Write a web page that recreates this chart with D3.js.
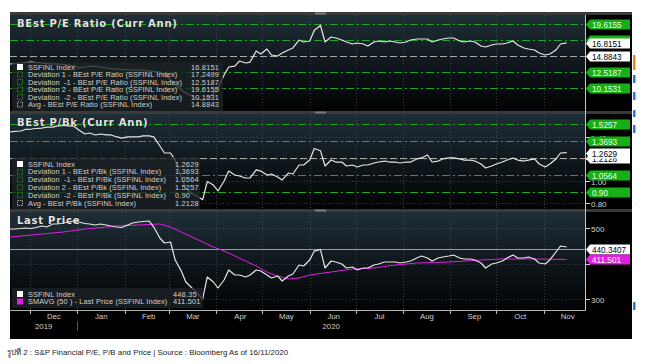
<!DOCTYPE html>
<html><head><meta charset="utf-8">
<script src="https://cdn.jsdelivr.net/npm/d3@7"></script>
<style>
html,body{margin:0;padding:0;background:#fff;}
svg{display:block;}
text{white-space:pre;}
</style></head><body>
<svg id="c" width="649" height="364"></svg>
<script>
// ---------- DATA ----------
const dates = [
"2019-11-18","2019-11-21","2019-11-25","2019-11-28","2019-12-02","2019-12-05","2019-12-09","2019-12-12","2019-12-16","2019-12-19",
"2019-12-23","2019-12-26","2019-12-30","2020-01-02","2020-01-06","2020-01-09","2020-01-13","2020-01-16","2020-01-20","2020-01-23",
"2020-01-27","2020-01-30","2020-02-03","2020-02-06","2020-02-10","2020-02-13","2020-02-17","2020-02-20","2020-02-24","2020-02-27",
"2020-03-02","2020-03-05","2020-03-09","2020-03-12","2020-03-16","2020-03-19","2020-03-23","2020-03-26","2020-03-30","2020-04-02",
"2020-04-06","2020-04-09","2020-04-13","2020-04-16","2020-04-20","2020-04-23","2020-04-27","2020-04-30","2020-05-04","2020-05-07",
"2020-05-11","2020-05-14","2020-05-18","2020-05-21","2020-05-25","2020-05-28","2020-06-01","2020-06-04","2020-06-08","2020-06-11",
"2020-06-15","2020-06-18","2020-06-22","2020-06-25","2020-06-29","2020-07-02","2020-07-06","2020-07-09","2020-07-13","2020-07-16",
"2020-07-20","2020-07-23","2020-07-27","2020-07-30","2020-08-03","2020-08-06","2020-08-10","2020-08-13","2020-08-17","2020-08-20",
"2020-08-24","2020-08-27","2020-08-31","2020-09-03","2020-09-07","2020-09-10","2020-09-14","2020-09-17","2020-09-21","2020-09-24",
"2020-09-28","2020-10-01","2020-10-05","2020-10-08","2020-10-12","2020-10-15","2020-10-19","2020-10-22","2020-10-26","2020-10-29",
"2020-11-02","2020-11-05","2020-11-09","2020-11-12","2020-11-16"];

const peValues = [
13.70,13.77,13.85,13.92,13.99,13.92,13.85,13.77,13.70,13.70,
13.63,13.55,13.40,13.11,13.26,13.33,13.40,13.26,13.11,13.03,
12.96,12.89,12.81,12.81,12.81,12.74,12.67,12.59,12.52,12.22,
11.33,10.74,9.85,9.41,8.97,8.60,8.30,8.60,9.30,10.15,
12.07,13.26,13.40,14.14,13.85,13.99,15.62,15.18,15.92,15.03,
14.88,15.33,15.77,16.07,17.25,16.96,17.10,18.70,19.40,16.96,
17.69,17.55,17.25,16.96,16.66,16.81,16.66,16.36,16.96,17.10,
16.96,17.10,16.96,16.81,16.96,17.25,17.40,17.40,17.40,16.96,
17.25,17.40,17.55,17.55,17.10,16.96,17.10,16.96,16.36,16.22,
16.51,16.66,16.66,16.81,17.10,16.51,16.07,15.92,15.77,15.33,
15.03,15.18,15.77,16.66,16.8151];

const pbValues = [
1.450,1.455,1.459,1.473,1.477,1.482,1.486,1.495,1.495,1.505,
1.509,1.505,1.500,1.468,1.432,1.441,1.423,1.432,1.423,1.423,
1.405,1.395,1.405,1.405,1.405,1.414,1.414,1.405,1.323,1.259,
1.259,1.195,1.041,0.941,0.886,0.870,0.835,1.000,0.968,0.914,
1.005,1.095,1.059,1.050,1.032,1.032,1.105,1.095,1.059,1.068,
1.041,1.014,1.077,1.068,1.150,1.150,1.195,1.300,1.280,1.141,
1.195,1.177,1.177,1.141,1.150,1.132,1.150,1.150,1.168,1.177,
1.186,1.177,1.177,1.168,1.177,1.177,1.205,1.214,1.241,1.177,
1.186,1.205,1.214,1.214,1.205,1.195,1.195,1.186,1.159,1.123,
1.141,1.159,1.177,1.195,1.214,1.195,1.186,1.195,1.205,1.159,
1.132,1.159,1.205,1.259,1.2629];

const priceValues = [
497.2,497.2,498.6,500.0,498.6,501.4,505.6,502.8,511.3,511.3,
514.1,516.9,519.7,516.9,512.7,511.3,508.5,511.3,508.5,505.6,
502.8,501.4,508.5,514.1,516.9,518.3,519.7,502.8,471.8,457.7,
460.6,409.9,378.9,347.9,331.0,318.0,300.0,362.0,347.9,331.0,
353.5,381.7,367.6,367.6,362.0,367.6,381.7,378.9,367.6,359.2,
364.8,350.7,364.8,370.4,395.8,393.0,409.9,435.0,440.0,387.3,
407.0,404.2,398.6,387.3,390.1,381.7,387.3,387.3,395.8,398.6,
404.2,404.2,404.2,401.4,404.2,407.0,415.5,421.1,415.5,407.0,
415.5,418.3,421.1,423.9,415.5,412.7,412.7,409.9,401.4,387.3,
398.6,401.4,407.0,415.5,423.9,415.5,415.5,418.3,412.7,401.4,
398.6,409.9,432.4,449.3,446.5];

const smaDates = ["2019-11-18","2019-12-09","2019-12-23","2020-01-06","2020-01-27","2020-02-10","2020-02-24","2020-03-02",
"2020-03-09","2020-03-16","2020-03-23","2020-03-30","2020-04-06","2020-04-13","2020-04-20","2020-04-27","2020-05-04",
"2020-05-11","2020-05-18","2020-05-25","2020-06-01","2020-06-15","2020-06-29","2020-07-13","2020-07-27","2020-08-10",
"2020-08-31","2020-09-21","2020-10-05","2020-10-26","2020-11-16"];
const smaValues = [474.6,483.1,488.7,497.2,505.6,508.5,511.3,502.8,488.7,474.6,460.6,446.5,435.2,421.1,407.0,393.0,376.1,
364.8,356.3,359.2,367.6,376.1,384.5,387.3,395.8,401.4,404.2,409.9,412.7,412.5,411.501];

const peLevels = [19.6155, 17.2499, 14.8843, 12.5187, 10.1531];   // +2s, +1s, avg, -1s, -2s
const pbLevels = [1.5257, 1.3693, 1.2128, 1.0564, 0.90];
const peLast = 16.8151, pbLast = 1.2629, priceLast = 440.3407, smaLast = 411.501;
const pbTicks = [0.8, 1.0, 1.2, 1.4];
const pbTickLabels = ["0.80", "1.00", "", "1.40"];
const priceTicks = [300, 400, 500];
const priceTickLabels = ["300", "", "500"];
const monthLabels = ["Dec","Jan","Feb","Mar","Apr","May","Jun","Jul","Aug","Sep","Oct","Nov"];
const yearLabels = ["2019","2020"];

const peLegendLabels = ["SSFINL Index","Deviation 1 - BEst P/E Ratio (SSFINL Index)","Deviation  -1 - BEst P/E Ratio (SSFINL Index)",
 "Deviation 2 - BEst P/E Ratio (SSFINL Index)","Deviation  -2 - BEst P/E Ratio (SSFINL Index)","Avg - BEst P/E Ratio (SSFINL Index)"];
const peLegendValues = ["16.8151","17.2499","12.5187","19.6155","10.1531","14.8843"];
const pbLegendLabels = ["SSFINL Index","Deviation 1 - BEst P/Bk (SSFINL Index)","Deviation  -1 - BEst P/Bk (SSFINL Index)",
 "Deviation 2 - BEst P/Bk (SSFINL Index)","Deviation  -2 - BEst P/Bk (SSFINL Index)","Avg - BEst P/Bk (SSFINL Index)"];
const pbLegendValues = ["1.2629","1.3693","1.0564","1.5257","0.90","1.2128"];
const priceLegendLabels = ["SSFINL Index","SMAVG (50 ) - Last Price (SSFINL Index)"];
const priceLegendValues = ["448.35","411.501"];

// ---------- DRAW ----------
const svg = d3.select("#c");
const parse = d3.timeParse("%Y-%m-%d");
const D = dates.map(parse);
const X0 = 10, X1 = 585, RX = 632;
const x = d3.scaleTime().domain([new Date(2019,10,18), new Date(2020,10,28)]).range([X0, X1]);

const GREEN = "#1ea81e", TAGGREEN = "#16b016", MAG = "#e01ee0";
const FONT = "Liberation Sans, Arial, sans-serif";

svg.append("rect").attr("x",X0).attr("y",12).attr("width",RX-X0).attr("height",327).attr("fill","#000");

const defs = svg.append("defs");
const gr = defs.append("linearGradient").attr("id","pg").attr("x1",0).attr("y1",0).attr("x2",0).attr("y2",1);
gr.append("stop").attr("offset","0%").attr("stop-color","#1f2e37");
gr.append("stop").attr("offset","55%").attr("stop-color","#0e151a");
gr.append("stop").attr("offset","100%").attr("stop-color","#020304");

const panels = [
  {top:15, bottom:111, dom:[6.748, 20.95]},
  {top:114, bottom:209, dom:[0.75, 1.6136]},
  {top:212, bottom:310, dom:[269, 545.1]}
];
const monthStarts = d3.timeMonth.range(new Date(2019,11,1), new Date(2020,10,2));
panels.forEach((p,i) => {
  p.y = d3.scaleLinear().domain(p.dom).range([p.bottom, p.top]);
  svg.append("rect").attr("x",X0).attr("y",p.top).attr("width",X1-X0).attr("height",p.bottom-p.top).attr("fill","url(#pg)");
  defs.append("clipPath").attr("id","cp"+i).append("rect")
    .attr("x",X0).attr("y",p.top).attr("width",X1-X0).attr("height",p.bottom-p.top);
  svg.append("g").selectAll("line").data(monthStarts).join("line")
    .attr("x1",d=>Math.round(x(d))+0.5).attr("x2",d=>Math.round(x(d))+0.5)
    .attr("y1",p.top).attr("y2",p.bottom)
    .attr("stroke","#56636b").attr("stroke-width",0.8).attr("stroke-dasharray","1,2").attr("opacity",0.7);
});

[12,111,209].forEach(yy => {
  svg.append("rect").attr("x",X0).attr("y",yy).attr("width",RX-X0).attr("height",3).attr("fill","#3a3a3a");
  svg.append("rect").attr("x",315).attr("y",yy+0.5).attr("width",11).attr("height",2).attr("fill","#7a7a7a");
});

function hgrid(p, ticks){
  svg.append("g").selectAll("line").data(ticks).join("line")
    .attr("x1",X0).attr("x2",X1).attr("y1",d=>Math.round(p.y(d))+0.5).attr("y2",d=>Math.round(p.y(d))+0.5)
    .attr("stroke","#56636b").attr("stroke-width",0.8).attr("stroke-dasharray","1,2").attr("opacity",0.7);
}
hgrid(panels[1], pbTicks);
hgrid(panels[2], priceTicks);

function bands(p, levels){
  levels.forEach((v,i) => {
    const avg = i === 2;
    svg.append("line").attr("x1",X0).attr("x2",X1)
      .attr("y1",Math.round(p.y(v))+0.5).attr("y2",Math.round(p.y(v))+0.5)
      .attr("stroke", avg ? "#a8a8a8" : GREEN).attr("stroke-width",1)
      .attr("stroke-dasharray", avg ? "7,3" : "8,3,2,3");
  });
}
bands(panels[0], peLevels);
bands(panels[1], pbLevels);
svg.append("line").attr("x1",X0).attr("x2",X1)
  .attr("y1",Math.round(panels[2].y(priceLast))+0.5).attr("y2",Math.round(panels[2].y(priceLast))+0.5)
  .attr("stroke","#9a9a9a").attr("stroke-width",1);

function drawLine(i, ds, vs, color, w){
  const p = panels[i];
  const pts = ds.map((d,k)=>[d, vs[k]]);
  svg.append("path").datum(pts).attr("clip-path","url(#cp"+i+")")
    .attr("d", d3.line().x(d=>x(d[0])).y(d=>p.y(d[1])))
    .attr("fill","none").attr("stroke",color).attr("stroke-width",w).attr("stroke-linejoin","round");
}
drawLine(0, D, peValues, "#e6e6e6", 1.2);
drawLine(1, D, pbValues, "#e6e6e6", 1.2);
drawLine(2, smaDates.map(parse), smaValues, MAG, 1);
drawLine(2, D, priceValues, "#e6e6e6", 1.2);

function legend(x0, y0, w, h, rowY, labels, values, valX, markers){
  svg.append("rect").attr("x",x0).attr("y",y0).attr("width",w).attr("height",h)
    .attr("fill","#1c2226").attr("opacity",0.78);
  labels.forEach((t,i) => {
    const cy = rowY[i];
    const m = markers[i];
    if (m.fill) {
      svg.append("rect").attr("x",17).attr("y",cy-3).attr("width",6).attr("height",6).attr("fill",m.fill);
    } else {
      svg.append("rect").attr("x",17.5).attr("y",cy-2.5).attr("width",5).attr("height",5)
        .attr("fill","none").attr("stroke",m.stroke).attr("stroke-width",0.8).attr("stroke-dasharray","1.5,1");
    }
    svg.append("text").attr("x",28).attr("y",cy+2.6).attr("font-family",FONT).attr("font-size",7.4)
      .attr("letter-spacing",0.1).attr("fill","#d2d2d2").text(t);
    svg.append("text").attr("x",valX).attr("y",cy+2.6).attr("font-family",FONT).attr("font-size",7.4)
      .attr("letter-spacing",0.2).attr("fill","#d2d2d2").text(values[i]);
  });
}
const devMarkers = [{fill:"#ffffff"},{stroke:GREEN},{stroke:GREEN},{stroke:GREEN},{stroke:GREEN},{stroke:"#cfcfcf"}];
legend(12, 62, 211, 49, [67,74.5,82,89.5,97,104.5], peLegendLabels, peLegendValues, 191, devMarkers);
legend(12, 157, 188, 52, [164,171.8,179.6,187.4,195.2,203], pbLegendLabels, pbLegendValues, 175, devMarkers);
legend(12, 288, 191, 20, [294,301.5], priceLegendLabels, priceLegendValues, 173, [{fill:"#ffffff"},{fill:MAG}]);

[["BEst P/E Ratio (Curr Ann)",27],["BEst P/Bk (Curr Ann)",126],["Last Price",224]].forEach(([t,yy]) => {
  svg.append("text").attr("x",17).attr("y",yy).attr("font-family","DejaVu Sans, sans-serif")
    .attr("font-weight","bold").attr("font-size",10).attr("letter-spacing",0.75)
    .attr("fill","#e4e4e4").attr("stroke","#000").attr("stroke-width",0.4).attr("paint-order","stroke").text(t);
});

svg.append("line").attr("x1",X1+0.5).attr("x2",X1+0.5).attr("y1",15).attr("y2",310.5).attr("stroke","#c8c8c8").attr("stroke-width",1);
svg.append("line").attr("x1",X0).attr("x2",X1+0.5).attr("y1",310.5).attr("y2",310.5).attr("stroke","#b0b0b0").attr("stroke-width",1);
function rticks(p, ticks, labels){
  ticks.forEach((v,i) => {
    const yy = Math.round(p.y(v))+0.5;
    svg.append("line").attr("x1",X1).attr("x2",X1+5).attr("y1",yy).attr("y2",yy).attr("stroke","#d0d0d0");
    if (labels[i]) svg.append("text").attr("x",X1+6).attr("y",yy+3).attr("font-family",FONT).attr("font-size",8)
      .attr("fill","#d4d4d4").text(labels[i]);
  });
}
rticks(panels[1], pbTicks, pbTickLabels);
rticks(panels[2], priceTicks, priceTickLabels);

function tag(yv, txt, fill, color){
  const yc = Math.round(yv)+0.5;
  svg.append("path")
    .attr("d", `M${X1+1},${yc} L${X1+5},${yc-5} L${RX-2},${yc-5} L${RX-2},${yc+5} L${X1+5},${yc+5} Z`)
    .attr("fill", fill);
  if (txt) svg.append("text").attr("x",X1+7).attr("y",yc+3).attr("font-family",FONT).attr("font-size",8.2)
    .attr("fill",color).text(txt);
}
const P0 = panels[0], P1 = panels[1], P2 = panels[2];
tag(P0.y(peLevels[0]), "19.6155", TAGGREEN, "#e8ffe8");
tag(P0.y(peLevels[1]), "", TAGGREEN, "#e8ffe8");
tag(P0.y(peLast), "16.8151", "#ffffff", "#000");
tag(P0.y(peLevels[2]), "14.8843", "#ffffff", "#000");
tag(P0.y(peLevels[3]), "12.5187", TAGGREEN, "#e8ffe8");
tag(P0.y(peLevels[4]), "10.1531", TAGGREEN, "#e8ffe8");
tag(P1.y(pbLevels[0]), "1.5257", TAGGREEN, "#e8ffe8");
tag(P1.y(pbLevels[1]), "1.3693", TAGGREEN, "#e8ffe8");
tag(P1.y(pbLevels[2]), "1.2128", "#ffffff", "#000");
tag(P1.y(pbLast), "1.2629", "#ffffff", "#000");
tag(P1.y(pbLevels[3]), "1.0564", TAGGREEN, "#e8ffe8");
tag(P1.y(pbLevels[4]), "0.90", TAGGREEN, "#e8ffe8");
tag(P2.y(priceLast), "440.3407", "#ffffff", "#000");
tag(P2.y(smaLast), "411.501", MAG, "#ffffff");

svg.append("g").selectAll("line").data(monthStarts).join("line")
  .attr("x1",d=>Math.round(x(d))+0.5).attr("x2",d=>Math.round(x(d))+0.5).attr("y1",310.5).attr("y2",314)
  .attr("stroke","#c0c0c0");
svg.append("g").selectAll("text").data(monthStarts).join("text")
  .attr("x",d=>x(d3.timeDay.offset(d,15))+1).attr("y",319).attr("text-anchor","middle")
  .attr("font-family",FONT).attr("font-size",7.8).attr("fill","#cfcfcf").text((d,i)=>monthLabels[i]);
const jan1 = x(new Date(2020,0,1));
const yearMid = [(X0 + jan1)/2, (jan1 + X1)/2];
svg.append("g").selectAll("text").data(yearLabels).join("text")
  .attr("x",(d,i)=>yearMid[i]).attr("y",329).attr("text-anchor","middle")
  .attr("font-family",FONT).attr("font-size",7.8).attr("fill","#cfcfcf").text(d=>d);
svg.append("line").attr("x1",Math.round(jan1)+0.5).attr("x2",Math.round(jan1)+0.5)
  .attr("y1",321).attr("y2",331).attr("stroke","#555");

[[55,15,"#e0892b"],[75,8,"#2b78d6"],[92,8,"#2b78d6"],[110,7,"#2b78d6"],[125,8,"#2b78d6"],[302,8,"#2b78d6"]].forEach(([yy,h,c])=>{
  svg.append("rect").attr("x",633).attr("y",yy).attr("width",2.5).attr("height",h).attr("fill",c);
});

svg.append("text").attr("x",7).attr("y",355).attr("font-family","Liberation Sans, Arial, 'Noto Sans', sans-serif")
  .attr("font-size",7.9).attr("fill","#222").text("รูปที่ 2 : S&P Financial P/E, P/B and Price | Source : Bloomberg As of 16/11/2020");
</script>
</body></html>
